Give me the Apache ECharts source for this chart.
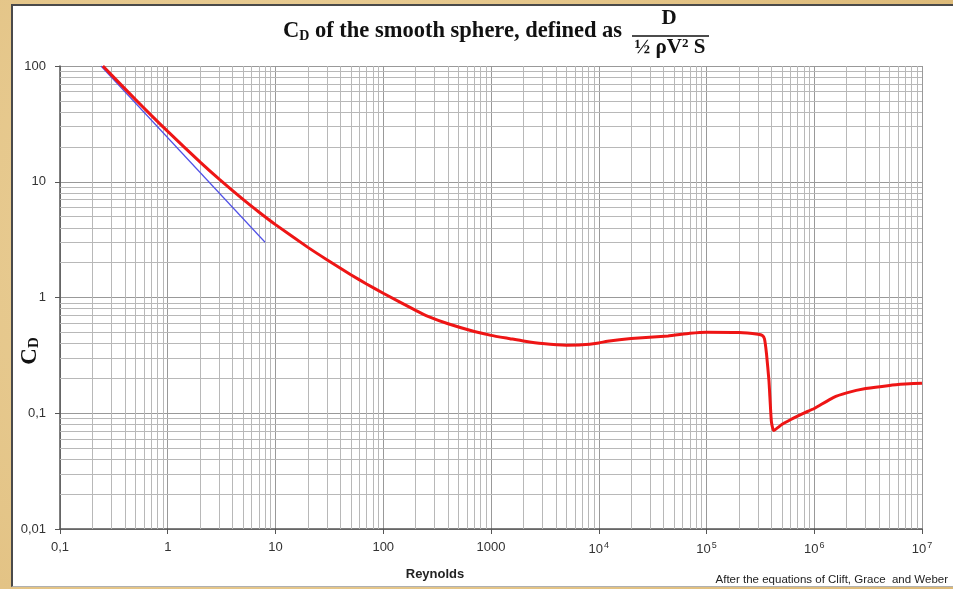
<!DOCTYPE html>
<html>
<head>
<meta charset="utf-8">
<script src="https://cdn.jsdelivr.net/npm/echarts@6/dist/echarts.min.js"></script>
<style>
    html, body { margin: 0; padding: 0; }
    #wrap { position: relative; width: 953px; height: 589px; overflow: hidden;
        background: radial-gradient(circle at 30% 40%, #ecd29c 0%, #e3c385 60%, #dcb977 100%); }
    #panel { position: absolute; left: 11px; top: 4px; right: 0; bottom: 2px; background: #fff;
        border-left: 2px solid #4a4a4a; border-top: 2px solid #4a4a4a; border-bottom: 1px solid #b0b0b0; }
    #chart { position: absolute; left: 0; top: 0; width: 953px; height: 589px; }
</style>
</head>
<body>
<div id="wrap">
    <div id="panel"></div>
    <div id="chart"></div>
</div>
<script>
// Datos (Reynolds vs C_D)
const reynolds = [0.25, 0.3, 0.5, 0.7, 1, 2, 3, 5, 7, 10, 20, 30, 50, 70, 100, 200, 260, 400, 700,
    1000, 1500, 2000, 3000, 5000, 7000, 10000, 12000, 20000, 44000, 70000, 100000, 200000, 300000,
    330000, 345000, 360000, 380000, 400000, 420000, 500000, 600000, 700000, 800000, 1000000,
    1500000, 2000000, 3000000, 5000000, 7000000, 10000000];
const dragCoef = [100, 83.8, 51.5, 37.6, 27.2, 14.76, 10.52, 7.03, 5.48, 4.26, 2.71, 2.12, 1.574, 1.309, 1.088,
    0.775, 0.687, 0.593, 0.508, 0.471, 0.441, 0.421, 0.400, 0.387, 0.390, 0.405, 0.419, 0.442, 0.466,
    0.491, 0.502, 0.498, 0.481, 0.470, 0.440, 0.330, 0.190, 0.085, 0.071, 0.0799, 0.0878, 0.0945,
    0.1003, 0.110, 0.1367, 0.150, 0.1633, 0.174, 0.1786, 0.182];

// Recta de Stokes (24/Re)
const stokesRe = [0.24, 8];
const stokesCd = [100, 3];

const xTickLabels = ['0,1', '1', '10', '100', '1000', '10{s|4}', '10{s|5}', '10{s|6}', '10{s|7}'];
const yTickLabels = ['0,01', '0,1', '1', '10', '100'];

// lineas secundarias de la cuadricula (2..9 en cada decada)
const minorLines = (fromExp, toExp) => {
    let out = [];
    for (let k = fromExp; k < toExp; k++) {
        for (let m = 2; m <= 9; m++) out.push(m * Math.pow(10, k));
    }
    return out;
};

let chartDom = document.getElementById('chart');
let myChart = echarts.init(chartDom, null, { renderer: 'canvas' });
let option;

const serif = '"Liberation Serif", "Times New Roman", serif';
const sans = '"Liberation Sans", Arial, sans-serif';

option = {
    backgroundColor: 'transparent',
    animation: false,
    grid: { left: 60, right: 31, top: 66, bottom: 60 },
    xAxis: {
        type: 'log',
        logBase: 10,
        min: 0.1,
        max: 10000000,
        interval: 1,
        axisLine: { show: true, onZero: false, lineStyle: { color: '#555', width: 1.5 } },
        axisTick: { show: true, length: 5, lineStyle: { color: '#555' } },
        splitLine: { show: true, lineStyle: { color: '#999', width: 1 } },
        axisLabel: {
            margin: 12,
            color: '#333',
            fontFamily: sans,
            fontSize: 13,
            formatter: (v) => xTickLabels[Math.round(Math.log10(v)) + 1],
            rich: {
                s: { fontSize: 9, fontFamily: sans, color: '#333', verticalAlign: 'top', padding: [0, 0, 8, 1] }
            }
        }
    },
    yAxis: {
        type: 'log',
        logBase: 10,
        min: 0.01,
        max: 100,
        interval: 1,
        axisLine: { show: true, onZero: false, lineStyle: { color: '#555', width: 1.5 } },
        axisTick: { show: true, length: 5, lineStyle: { color: '#555' } },
        splitLine: { show: true, lineStyle: { color: '#999', width: 1 } },
        axisLabel: {
            margin: 14,
            color: '#333',
            fontFamily: sans,
            fontSize: 13,
            formatter: (v) => yTickLabels[Math.round(Math.log10(v)) + 2]
        }
    },
    graphic: [
        {
            type: 'text', left: 283, top: 20,
            style: {
                text: '{b|C}{s|D}{b| of the smooth sphere, defined as}',
                rich: {
                    b: { fontFamily: serif, fontWeight: 'bold', fontSize: 22.5, fill: '#111' },
                    s: { fontFamily: serif, fontWeight: 'bold', fontSize: 14, fill: '#111', verticalAlign: 'bottom', padding: [7, 0, 0, 0] }
                }
            }
        },
        {
            type: 'text', x: 669, y: 19,
            style: { text: 'D', fontFamily: serif, fontWeight: 'bold', fontSize: 21, fill: '#111', align: 'center', verticalAlign: 'middle' }
        },
        {
            type: 'line', shape: { x1: 632, y1: 36, x2: 709, y2: 36 },
            style: { stroke: '#111', lineWidth: 1.5 }
        },
        {
            type: 'text', x: 670, y: 48,
            style: {
                text: '{n|½ ρV}{p|2}{n| S}', align: 'center', verticalAlign: 'middle',
                rich: {
                    n: { fontFamily: serif, fontWeight: 'bold', fontSize: 21, fill: '#111' },
                    p: { fontFamily: serif, fontWeight: 'bold', fontSize: 13, fill: '#111', verticalAlign: 'top', padding: [0, 0, 5, 0] }
                }
            }
        },
        {
            type: 'text', x: 30, y: 351, rotation: Math.PI / 2,
            style: {
                text: '{b|C}{s|D}', align: 'center', verticalAlign: 'middle',
                rich: {
                    b: { fontFamily: serif, fontWeight: 'bold', fontSize: 23, fill: '#111' },
                    s: { fontFamily: serif, fontWeight: 'bold', fontSize: 15, fill: '#111', verticalAlign: 'bottom', padding: [7, 0, 0, 0] }
                }
            }
        },
        {
            type: 'text', x: 435, y: 574,
            style: { text: 'Reynolds', fontFamily: sans, fontWeight: 'bold', fontSize: 13, fill: '#222', align: 'center', verticalAlign: 'middle' }
        },
        {
            type: 'text', x: 948, y: 580,
            style: { text: 'After the equations of Clift, Grace  and Weber', fontFamily: sans, fontSize: 11.5, fill: '#222', align: 'right', verticalAlign: 'middle' }
        }
    ],
    series: [
        {
            // cuadricula secundaria
            type: 'line',
            z: 1,
            silent: true,
            data: [],
            markLine: {
                z: 1,
                silent: true,
                symbol: ['none', 'none'],
                label: { show: false },
                lineStyle: { color: '#b8b8b8', width: 1, type: 'solid' },
                emphasis: { disabled: true },
                data: minorLines(-1, 7).map(v => ({ xAxis: v }))
                    .concat(minorLines(-2, 2).map(v => ({ yAxis: v })))
            }
        },
        {
            type: 'line',
            z: 6,
            data: stokesRe.map((r, i) => [r, stokesCd[i]]),
            showSymbol: false,
            lineStyle: { color: '#5050e6', width: 1.2 }
        },
        {
            type: 'line',
            z: 7,
            data: reynolds.map((r, i) => [r, dragCoef[i]]),
            showSymbol: false,
            smooth: 0.15,
            lineStyle: { color: '#ee1515', width: 3 }
        }
    ]
};

option && myChart.setOption(option);
</script>
</body>
</html>
